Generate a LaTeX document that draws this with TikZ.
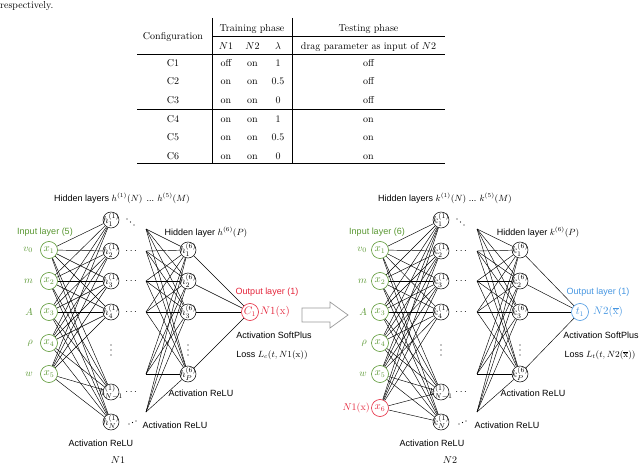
\documentclass[tikz,border=0pt]{standalone}
\usepackage{fontspec}
\setsansfont{Liberation Sans}
\usepackage{amsmath}
\definecolor{ngreen}{RGB}{88,150,48}
\definecolor{nred}{RGB}{228,36,58}
\definecolor{nblue}{RGB}{70,150,225}
\begin{document}
\begin{tikzpicture}[x=1pt,y=-1pt,
  tt/.style={font=\fontsize{10}{12}\selectfont, inner sep=0pt, anchor=base},
  rl/.style={line width=0.5pt},
  lbl/.style={font=\fontsize{9}{11}\selectfont\sffamily, inner sep=0pt},
  edge/.style={line width=0.45pt},
  innode/.style={circle, draw=ngreen, text=ngreen, minimum size=17pt, inner sep=0pt, line width=0.6pt, font=\fontsize{10.5}{12}\selectfont},
  hn/.style={circle, draw, minimum size=16pt, inner sep=0pt, line width=0.5pt},
  hl/.style={font=\fontsize{10}{11}\selectfont, inner sep=0pt},
  vlab/.style={anchor=east, text=ngreen, font=\fontsize{10}{12}\selectfont, inner sep=0pt},
  dot/.style={circle, fill, inner sep=0pt, minimum size=1.1pt}
]
\useasboundingbox (0,0) rectangle (640,465);

% ---------- caption fragment ----------
\node[tt, anchor=base west] (resp) at (0,9) {respectively.};

% ---------- table ----------
\draw[rl] (212,18) -- (212,164);
\draw[rl] (292,18) -- (292,164);
\draw[rl] (212,36) -- (445,36);
\draw[rl] (137,54) -- (445,54);
\draw[rl] (137,109) -- (445,109);
\draw[line width=1pt] (137,164) -- (445,164);
\node[tt] (hconf) at (173,39.4) {Configuration};
\node[tt] (htrain) at (252,31.4) {Training phase};
\node[tt] (htest) at (368.5,31.4) {Testing phase};
\node[tt] (hn1) at (226,49.4) {$N1$};
\node[tt] (hn2) at (252.5,49.4) {$N2$};
\node[tt] (hlam) at (278,49.4) {$\lambda$};
\node[tt] (hdrag) at (368.5,49.4) {drag parameter as input of $N2$};
\foreach \r/\y/\a/\b/\c/\d in {1/63/off/on/1/off, 2/81.5/on/on/0.5/off, 3/100/on/on/0/off,
                               4/119/on/on/1/on, 5/137.5/on/on/0.5/on, 6/156/on/on/0/on}{
  \node[tt] (c\r) at (173,\y+3.4) {C\r};
  \node[tt] (c\r a) at (226,\y+3.4) {\a};
  \node[tt] (c\r b) at (252.5,\y+3.4) {\b};
  \node[tt] (c\r c) at (278,\y+3.4) {\c};
  \node[tt] (c\r d) at (368.5,\y+3.4) {\d};
}

% ================= N1 =================
\foreach \i/\y in {1/250,2/281,3/312,4/343,5/374}
  \node[innode] (a-in\i) at (49,\y) {$x_{\i}$};
\node[vlab] (a-v1) at (33,250) {$v_0$};
\node[vlab] (a-v2) at (33,281) {$m$};
\node[vlab] (a-v3) at (33,312) {$A$};
\node[vlab] (a-v4) at (33,343) {$\rho$};
\node[vlab] (a-v5) at (33,374) {$w$};

\node[hn, label={[hl]center:$h_1^{(1)}$}] (a-h1) at (111,220) {};
\node[hn, label={[hl]center:$h_2^{(1)}$}] (a-h2) at (111,251) {};
\node[hn, label={[hl]center:$h_3^{(1)}$}] (a-h3) at (111,281) {};
\node[hn, label={[hl]center:$h_4^{(1)}$}] (a-h4) at (111,312) {};
\node[hn, label={[hl]center:$h_{N-1}^{(1)}$}] (a-h5) at (111,392) {};
\node[hn, label={[hl]center:$h_N^{(1)}$}] (a-h6) at (111,422) {};

\foreach \y [count=\k] in {229,251,281,312,374,412}
  \coordinate (a-s\k) at (146,\y);

\node[hn, label={[hl]center:$h_1^{(6)}$}] (a-g1) at (188,250) {};
\node[hn, label={[hl]center:$h_2^{(6)}$}] (a-g2) at (188,281) {};
\node[hn, label={[hl]center:$h_3^{(6)}$}] (a-g3) at (188,312) {};
\node[hn, label={[hl]center:$h_P^{(6)}$}] (a-g4) at (188,374) {};

\node[circle, draw=nred, text=nred, minimum size=17pt, inner sep=0pt, line width=0.6pt, font=\fontsize{10.5}{12}\selectfont] (a-out) at (250,312) {$C_1$};
\node[anchor=west, text=nred, inner sep=0pt, font=\fontsize{11}{13}\selectfont] (a-outl) at (260,312) {$N1(\mathrm{x})$};

\foreach \i in {1,...,5}
  \foreach \j in {1,...,6}
    \draw[edge] (a-in\i) -- (a-h\j);
\foreach \i in {1,...,6}
  \foreach \j in {1,...,4}
    \draw[edge] (a-s\i) -- (a-g\j);
\foreach \j in {1,...,4}
  \draw[edge] (a-g\j) -- (a-out);

% dots
\foreach \y [count=\k] in {251,281,312,392}
  \node[hl] (a-hd\k) at (132,\y) {$\cdots$};
\foreach \p [count=\k] in {(127,219),(130.5,222),(134,225)}
  \node[dot] (a-dd\k) at \p {};
\foreach \p [count=\k] in {(129,424),(132.5,422.5),(136,421)}
  \node[dot] (a-du\k) at \p {};
\foreach \y [count=\k] in {345,350,355}{
  \node[dot] (a-vd\k) at (111,\y) {};
  \node[dot] (a-wd\k) at (188,\y) {};
}

% labels
\node[lbl] (a-t1) at (122,198) {Hidden layers $h^{(1)}(N)$ \,... $h^{(5)}(M)$};
\node[lbl, text=ngreen] (a-t2) at (45,232) {Input layer (5)};
\node[lbl] (a-t3) at (206,232) {Hidden layer $h^{(6)}(P)$};
\node[lbl, text=nred] (a-t4) at (267,292) {Output layer (1)};
\node[lbl] (a-t5) at (274,335) {Activation SoftPlus};
\node[lbl] (a-t6) at (272,355) {Loss $L_c(t, N1(\mathrm{x}))$};
\node[lbl] (a-t7) at (201,393) {Activation ReLU};
\node[lbl] (a-t8) at (175,425) {Activation ReLU};
\node[lbl] (a-t9) at (101,443) {Activation ReLU};
\node[font=\fontsize{10}{12}\selectfont, inner sep=0pt] (a-name) at (118,460) {$N1$};

% ---------- arrow ----------
\draw[gray!80, line width=0.7pt, line join=miter]
  (302,308) -- (330,308) -- (330,302) -- (348,315) -- (330,328) -- (330,322) -- (302,322) -- cycle;

% ================= N2 =================
\foreach \i/\y in {1/250,2/281,3/312,4/343,5/374}
  \node[innode] (b-in\i) at (380,\y) {$x_{\i}$};
\node[innode, draw=nred, text=nred] (b-in6) at (380,408) {$x_6$};
\node[vlab] (b-v1) at (367,250) {$v_0$};
\node[vlab] (b-v2) at (367,281) {$m$};
\node[vlab] (b-v3) at (367,312) {$A$};
\node[vlab] (b-v4) at (367,343) {$\rho$};
\node[vlab] (b-v5) at (367,374) {$w$};
\node[vlab, text=nred] (b-v6) at (370,408) {$N1(\mathrm{x})$};

\node[hn, label={[hl]center:$k_1^{(1)}$}] (b-h1) at (441,220) {};
\node[hn, label={[hl]center:$k_2^{(1)}$}] (b-h2) at (441,251) {};
\node[hn, label={[hl]center:$k_3^{(1)}$}] (b-h3) at (441,281) {};
\node[hn, label={[hl]center:$k_4^{(1)}$}] (b-h4) at (441,312) {};
\node[hn, label={[hl]center:$k_{N-1}^{(1)}$}] (b-h5) at (441,392) {};
\node[hn, label={[hl]center:$k_N^{(1)}$}] (b-h6) at (441,422) {};

\foreach \y [count=\k] in {229,251,281,312,374,412}
  \coordinate (b-s\k) at (477,\y);

\node[hn, label={[hl]center:$k_1^{(6)}$}] (b-g1) at (520,250) {};
\node[hn, label={[hl]center:$k_2^{(6)}$}] (b-g2) at (520,281) {};
\node[hn, label={[hl]center:$k_3^{(6)}$}] (b-g3) at (520,312) {};
\node[hn, label={[hl]center:$k_P^{(6)}$}] (b-g4) at (520,374) {};

\node[circle, draw=nblue, text=nblue, minimum size=17pt, inner sep=0pt, line width=0.6pt, font=\fontsize{10.5}{12}\selectfont] (b-out) at (580,312) {$t_1$};
\node[anchor=west, text=nblue, inner sep=0pt, font=\fontsize{11}{13}\selectfont] (b-outl) at (593,312) {$N2(\overline{\mathrm{x}})$};

\foreach \i in {1,...,6}
  \foreach \j in {1,...,6}
    \draw[edge] (b-in\i) -- (b-h\j);
\foreach \i in {1,...,6}
  \foreach \j in {1,...,4}
    \draw[edge] (b-s\i) -- (b-g\j);
\foreach \j in {1,...,4}
  \draw[edge] (b-g\j) -- (b-out);

\foreach \y [count=\k] in {251,281,312,392}
  \node[hl] (b-hd\k) at (462,\y) {$\cdots$};
\foreach \p [count=\k] in {(457,219),(460.5,222),(464,225)}
  \node[dot] (b-dd\k) at \p {};
\foreach \p [count=\k] in {(459,424),(462.5,422.5),(466,421)}
  \node[dot] (b-du\k) at \p {};
\foreach \y [count=\k] in {345,350,355}{
  \node[dot] (b-vd\k) at (441,\y) {};
  \node[dot] (b-wd\k) at (520,\y) {};
}

\node[lbl] (b-t1) at (445,198) {Hidden layers $k^{(1)}(N)$ ... $k^{(5)}(M)$};
\node[lbl, text=ngreen] (b-t2) at (377,232) {Input layer (6)};
\node[lbl] (b-t3) at (538,232) {Hidden layer $k^{(6)}(P)$};
\node[lbl, text=nblue] (b-t4) at (598,292) {Output layer (1)};
\node[lbl] (b-t5) at (601,335) {Activation SoftPlus};
\node[lbl] (b-t6) at (600,355) {Loss $L_t(t, N2(\overline{\mathrm{x}}))$};
\node[lbl] (b-t7) at (533,393) {Activation ReLU};
\node[lbl] (b-t8) at (507,425) {Activation ReLU};
\node[lbl] (b-t9) at (432,443) {Activation ReLU};
\node[font=\fontsize{10}{12}\selectfont, inner sep=0pt] (b-name) at (450,460) {$N2$};
\end{tikzpicture}
\end{document}
